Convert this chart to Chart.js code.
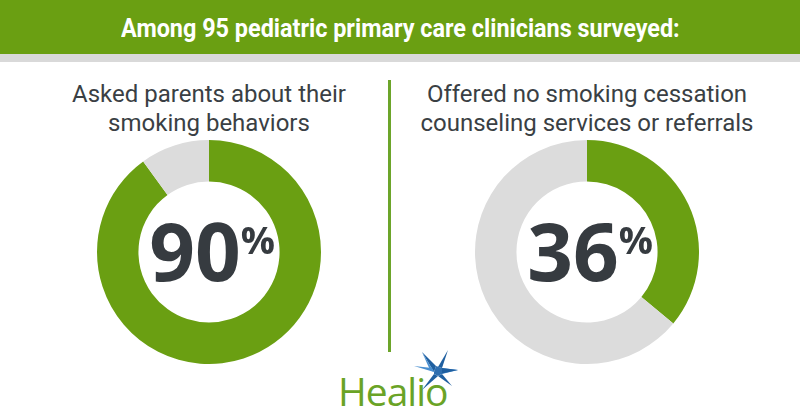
<!DOCTYPE html>
<html>
<head>
<meta charset="utf-8">
<script src="https://cdn.jsdelivr.net/npm/chart.js@4"></script>
<style>
  html, body { margin: 0; padding: 0; background: #fff; }
  #wrap { position: relative; width: 800px; height: 420px; overflow: hidden; font-family: Roboto, "Liberation Sans", sans-serif; }
  #header { position: absolute; left: 0; top: 0; width: 800px; height: 54px; background: #6a9f12; color: #fff;
    font-family: Roboto, sans-serif; font-weight: bold; font-size: 26px; line-height: 56px; text-align: center; }
  #header span { display: inline-block; transform: scaleX(0.9); }
  #strip { position: absolute; left: 0; top: 54px; width: 800px; height: 8px; background: #d9d9d9; }
  .sub { position: absolute; top: 80px; width: 380px; text-align: center; color: #3a3f44; font-size: 24px; line-height: 29px; }
  #divider { position: absolute; left: 388px; top: 80px; width: 3px; height: 272px; background: #6ca52a; }
  canvas { position: absolute; }
  #logo { position: absolute; left: 338px; top: 364px; color: #6aa326; font-size: 39px; font-family: "Open Sans", sans-serif; letter-spacing: -1px; }
  #star { position: absolute; left: 412px; top: 350px; }
</style>
</head>
<body>
<div id="wrap">
  <div id="header"><span>Among 95 pediatric primary care clinicians surveyed:</span></div>
  <div id="strip"></div>
  <div class="sub" style="left:19px">Asked parents about their<br>smoking behaviors</div>
  <div class="sub" style="left:397px">Offered no smoking cessation<br>counseling services or referrals</div>
  <div id="divider"></div>
  <canvas id="c1" width="224" height="224" style="left:97px;top:140px"></canvas>
  <canvas id="c2" width="224" height="224" style="left:475px;top:140px"></canvas>
  <div id="logo">Healio</div>
  <svg id="star" width="50" height="46" viewBox="0 0 50 46">
    <polygon points="10,2 24,16 22,22" fill="#1f5fa0"/>
    <polygon points="10,2 22,22 18,20" fill="#4a8fd0"/>
    <polygon points="36,0 30,18 26,17" fill="#1f5fa0"/>
    <polygon points="46,20 30,24 30,18" fill="#4a8fd0"/>
    <polygon points="46,20 30,18 28,24" fill="#1f5fa0"/>
    <polygon points="40,36 26,26 30,24" fill="#1f5fa0"/>
    <polygon points="10,40 22,24 26,26" fill="#1f5fa0"/>
    <polygon points="2,16 22,22 20,18" fill="#4a8fd0"/>
    <polygon points="24,16 30,18 30,24 26,26 22,24 22,22" fill="#2f6fb0"/>
  </svg>
</div>
<script>
const labels = ['Yes', 'No'];
const askedValues = [90, 10];
const offeredNoneValues = [36, 64];
const centerLabels = ['90', '36'];

const GREEN = '#6a9f12';
const GRAY = '#dcdcdc';

const centerText = {
  id: 'centerText',
  afterDraw(chart, args, opts) {
    const { ctx } = chart;
    const arc = chart.getDatasetMeta(0).data[0];
    const cx = arc.x, cy = arc.y;
    ctx.save();
    ctx.fillStyle = '#363b40';
    ctx.textBaseline = 'alphabetic';
    ctx.font = 'bold 80px "Open Sans", sans-serif';
    const w = ctx.measureText(opts.text).width;
    ctx.font = 'bold 38px "Open Sans", sans-serif';
    const pw = ctx.measureText('%').width;
    const start = cx - (w + pw) / 2 + 3;
    ctx.font = 'bold 80px "Open Sans", sans-serif';
    ctx.fillText(opts.text, start, cy + 29);
    ctx.font = 'bold 38px "Open Sans", sans-serif';
    ctx.fillText('%', start + w, cy + 2);
    ctx.restore();
  }
};

function makeDonut(id, values, text) {
  return new Chart(document.getElementById(id), {
    type: 'doughnut',
    data: { labels, datasets: [{ data: values, backgroundColor: [GREEN, GRAY], borderWidth: 0 }] },
    options: {
      responsive: false,
      animation: false,
      cutout: '63%',
      layout: { padding: 0 },
      plugins: { legend: { display: false }, tooltip: { enabled: false }, centerText: { text } }
    },
    plugins: [centerText]
  });
}

makeDonut('c1', askedValues, centerLabels[0]);
makeDonut('c2', offeredNoneValues, centerLabels[1]);
</script>
</body>
</html>
